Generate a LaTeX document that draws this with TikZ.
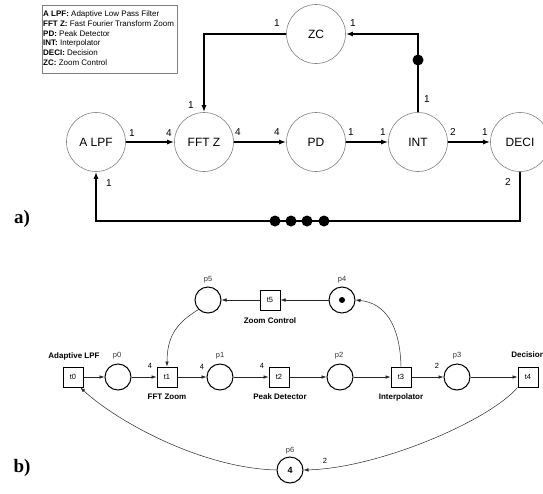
\documentclass[tikz,border=0pt]{standalone}
\usepackage{fontspec}
\setmainfont{Liberation Serif}
\setsansfont{Liberation Sans}
\usetikzlibrary{arrows.meta}
\begin{document}
\begin{tikzpicture}[x=1pt,y=-1pt,
 blk/.style={circle,draw=black!50,line width=0.6pt,minimum size=59pt,inner sep=0pt,font=\sffamily\fontsize{12}{13}\selectfont},
 wire/.style={line width=1.4pt,-{Latex[length=7pt,width=5pt]}},
 plainwire/.style={line width=1.4pt},
 wlab/.style={font=\sffamily\fontsize{10}{11}\selectfont,inner sep=0pt},
 tok/.style={circle,fill=black,minimum size=11pt,inner sep=0pt},
 legtext/.style={anchor=west,font=\sffamily\fontsize{8}{9}\selectfont,inner sep=0pt},
 trans/.style={draw,line width=1pt,minimum size=20pt,inner sep=0pt,font=\sffamily\fontsize{7.5}{8}\selectfont},
 place/.style={circle,draw,line width=1pt,minimum size=26pt,inner sep=0pt,font=\sffamily\bfseries\fontsize{9}{10}\selectfont},
 arc/.style={line width=0.5pt,draw=black!85,-{Latex[length=5pt,width=3.5pt]}},
 plab/.style={font=\sffamily\fontsize{7.5}{8}\selectfont,inner sep=0pt,text=black!80},
 tlab/.style={font=\sffamily\bfseries\fontsize{8}{9}\selectfont,inner sep=0pt},
 wt/.style={font=\sffamily\fontsize{7.5}{8}\selectfont,inner sep=0pt},
 part/.style={font=\bfseries\fontsize{19}{20}\selectfont,inner sep=0pt},
]
\useasboundingbox (0,0) rectangle (543,493);
% legend
\node[draw=black!50,line width=0.4pt,anchor=north west,minimum width=135pt,minimum height=68pt,inner sep=0pt] (legend) at (42,5) {};
\node[legtext] (l1) at (43,14) {\textbf{A LPF:} Adaptive Low Pass Filter};
\node[legtext] (l2) at (43,24) {\textbf{FFT Z:} Fast Fourier Transform Zoom};
\node[legtext] (l3) at (43,33.5) {\textbf{PD:} Peak Detector};
\node[legtext] (l4) at (43,43.5) {\textbf{INT:} Interpolator};
\node[legtext] (l5) at (43,53) {\textbf{DECI:} Decision};
\node[legtext] (l6) at (43,63) {\textbf{ZC:} Zoom Control};
% a) blocks
\node[blk] (alpf) at (96,142) {A LPF};
\node[blk] (fftz) at (204,142) {FFT Z};
\node[blk] (pd) at (316,142) {PD};
\node[blk] (int) at (418,142) {INT};
\node[blk] (deci) at (520,142) {DECI};
\node[blk] (zc) at (316,34) {ZC};
\draw[wire] (alpf) -- (fftz);
\draw[wire] (fftz) -- (pd);
\draw[wire] (pd) -- (int);
\draw[wire] (int) -- (deci);
\coordinate (c1) at (418,34);
\coordinate (c2) at (204,34);
\coordinate (c3) at (520,221);
\coordinate (c4) at (96,221);
\draw[wire] (int.north) -- (c1) -- (zc.east);
\draw[wire] (zc.west) -- (c2) -- (fftz.north);
\draw[wire] (deci.south) -- (c3) -- (c4) -- (alpf.south);
\node[tok] (dz) at (418,60) {};
\node[tok] (db1) at (275,221) {};
\node[tok] (db2) at (291,221) {};
\node[tok] (db3) at (307,221) {};
\node[tok] (db4) at (324,221) {};
\node[wlab] (w1) at (132,133) {1};
\node[wlab] (w2) at (169,133) {4};
\node[wlab] (w3) at (238,132) {4};
\node[wlab] (w4) at (277,132) {4};
\node[wlab] (w5) at (351,132) {1};
\node[wlab] (w6) at (383,132) {1};
\node[wlab] (w7) at (453,132) {2};
\node[wlab] (w8) at (485,132) {1};
\node[wlab] (w9) at (427,99) {1};
\node[wlab] (w10) at (353,23) {1};
\node[wlab] (w11) at (277,23) {1};
\node[wlab] (w12) at (191,105) {1};
\node[wlab] (w13) at (508,182) {2};
\node[wlab] (w14) at (109,183) {1};
\node[part] (pa) at (22,219) {a)};
% b) Petri net
\node[trans] (t0) at (73,377) {t0};
\node[trans] (t1) at (167,377) {t1};
\node[trans] (t2) at (279,377) {t2};
\node[trans] (t3) at (401,377) {t3};
\node[trans] (t4) at (528,377) {t4};
\node[trans] (t5) at (270,300) {t5};
\node[place] (p0) at (118,377) {};
\node[place] (p1) at (220,377) {};
\node[place] (p2) at (340,377) {};
\node[place] (p3) at (457,377) {};
\node[place] (p4) at (342,300) {};
\node[place] (p5) at (208,300) {};
\node[place] (p6) at (290,470) {4};
\node[circle,fill=black,minimum size=6pt,inner sep=0pt] (p4tok) at (p4) {};
\draw[arc] (t0) -- (p0);
\draw[arc] (p0) -- (t1);
\draw[arc] (t1) -- (p1);
\draw[arc] (p1) -- (t2);
\draw[arc] (t2) -- (p2);
\draw[arc] (p2) -- (t3);
\draw[arc] (t3) -- (p3);
\draw[arc] (p3) -- (t4);
\draw[arc] (p4) -- (t5);
\draw[arc] (t5) -- (p5);
\draw[arc] (t3.north) .. controls (400,325) and (385,303) .. (p4.east);
\draw[arc] (p5.south west) .. controls (178,322) and (167,335) .. (t1.north);
\draw[arc] (t4.south west) .. controls (490,420) and (380,468) .. (p6.east);
\draw[arc] (p6.west) .. controls (200,468) and (115,420) .. (t0.-55);
\node[tlab] (n0) at (74,356) {Adaptive LPF};
\node[tlab] (n1) at (167,397) {FFT Zoom};
\node[tlab] (n2) at (280,397) {Peak Detector};
\node[tlab] (n3) at (401,397) {Interpolator};
\node[tlab] (n4) at (528,355) {Decision};
\node[tlab] (n5) at (270,321) {Zoom Control};
\node[plab] (q0) at (117,356) {p0};
\node[plab] (q1) at (220,356) {p1};
\node[plab] (q2) at (339,356) {p2};
\node[plab] (q3) at (457,356) {p3};
\node[plab] (q4) at (342,280) {p4};
\node[plab] (q5) at (208,280) {p5};
\node[plab] (q6) at (290,451) {p6};
\node[wt] (v1) at (150,366) {4};
\node[wt] (v2) at (202,367) {4};
\node[wt] (v3) at (262,366) {4};
\node[wt] (v4) at (437,366) {2};
\node[wt] (v5) at (325,461) {2};
\node[part] (pb) at (22,468) {b)};
\end{tikzpicture}
\end{document}
